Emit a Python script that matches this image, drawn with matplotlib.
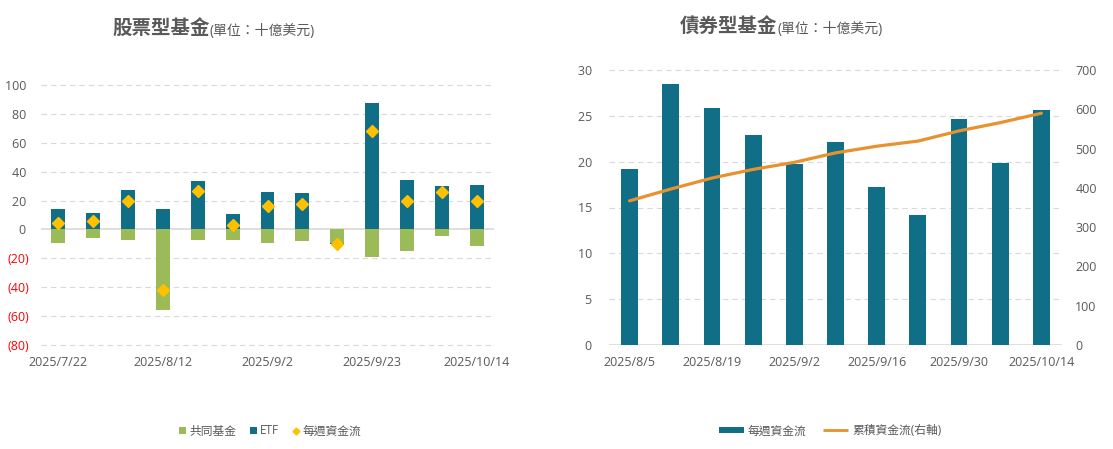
import matplotlib
matplotlib.use("Agg")
import matplotlib.pyplot as plt
from matplotlib.patches import Patch
from matplotlib.lines import Line2D
import numpy as np

plt.rcParams['font.family'] = ['Open Sans', 'Noto Sans CJK TC', 'DejaVu Sans']

# ---------------- data ----------------
eq_dates = ["2025/7/22", "2025/7/29", "2025/8/5", "2025/8/12", "2025/8/19", "2025/8/26",
            "2025/9/2", "2025/9/9", "2025/9/16", "2025/9/23", "2025/9/30", "2025/10/7",
            "2025/10/14"]
eq_mutual = [-9.2, -5.8, -7.4, -55.7, -7.4, -7.4, -9.2, -8.1, -9.2, -19.2, -15.0, -4.6, -11.3]
eq_etf = [14.1, 11.3, 27.3, 14.1, 33.5, 10.6, 25.9, 25.2, -0.6, 87.5, 34.2, 30.0, 30.7]
eq_weekly = [4.6, 6.0, 19.9, -42.0, 26.8, 3.2, 16.4, 17.8, -9.8, 68.1, 19.9, 25.9, 19.9]
eq_yticks = [100, 80, 60, 40, 20, 0, -20, -40, -60, -80]

bd_dates = ["2025/8/5", "2025/8/12", "2025/8/19", "2025/8/26", "2025/9/2", "2025/9/9",
            "2025/9/16", "2025/9/23", "2025/9/30", "2025/10/7", "2025/10/14"]
bd_weekly = [19.2, 28.5, 25.9, 22.9, 19.7, 22.2, 17.2, 14.2, 24.7, 19.9, 25.6]
bd_cum = [367, 397, 425, 447, 465, 489, 506, 519, 545, 566, 590]
bd_yticks = [0, 5, 10, 15, 20, 25, 30]
bd_y2ticks = [0, 100, 200, 300, 400, 500, 600, 700]

# ---------------- style ----------------
TEAL = "#106E87"
GREEN = "#9BBB59"
GOLD = "#FFC000"
ORANGE = "#E8912F"
GRAY = "#595959"
GRID = "#D9D9D9"
W, H = 1113, 449

fig = plt.figure(figsize=(W / 100, H / 100), dpi=100)

def fx(px):
    return px / W

def fy(py):
    return 1 - py / H

def style_axes(ax):
    for s in ax.spines.values():
        s.set_visible(False)
    ax.tick_params(axis='both', length=0, colors=GRAY, labelsize=9)

def fmt_num(v):
    if v < 0:
        return "({:,.0f})".format(-v)
    return "{:,.0f} ".format(v)

# ---------------- equity chart ----------------
ax1 = fig.add_axes([fx(41), fy(345), fx(453), (345 - 85) / H])
style_axes(ax1)
x1 = np.arange(len(eq_dates))
bw = 0.40
pos_bottom = np.zeros(len(x1))
neg_bottom = np.zeros(len(x1))
for vals, col in ((eq_mutual, GREEN), (eq_etf, TEAL)):
    vals = np.array(vals)
    bottoms = np.where(vals >= 0, pos_bottom, neg_bottom)
    ax1.bar(x1, vals, bw, bottom=bottoms, color=col, zorder=2)
    pos_bottom = pos_bottom + np.where(vals >= 0, vals, 0)
    neg_bottom = neg_bottom + np.where(vals < 0, vals, 0)
ax1.plot(x1, eq_weekly, ls='', marker='D', color=GOLD, markersize=6.2, zorder=3)
ax1.set_xlim(-0.5, len(x1) - 0.5)
ax1.set_ylim(-80, 100)
ax1.set_yticks(eq_yticks)
ax1.set_yticklabels([fmt_num(v) for v in eq_yticks])
for lab, v in zip(ax1.get_yticklabels(), eq_yticks):
    if v < 0:
        lab.set_color("#FF0000")
ax1.tick_params(axis='y', pad=8.5)
ax1.set_xticks(x1[::3])
ax1.set_xticklabels(eq_dates[::3])
ax1.tick_params(axis='x', pad=8)
for v in eq_yticks:
    if v == 0:
        ax1.axhline(v, color=GRID, lw=1.2, zorder=1)
    else:
        ax1.axhline(v, color=GRID, lw=0.8, ls=(0, (5, 3.5)), zorder=1, clip_on=False)

# ---------------- bond chart ----------------
ax2 = fig.add_axes([fx(609), fy(345), fx(453), (345 - 70) / H])
style_axes(ax2)
x2 = np.arange(len(bd_dates))
ax2.bar(x2, bd_weekly, 0.41, color=TEAL, zorder=2)
ax2.set_xlim(-0.5, len(x2) - 0.5)
ax2.set_ylim(0, 30)
ax2.set_yticks(bd_yticks)
ax2.set_yticklabels([fmt_num(v) for v in bd_yticks])
ax2.tick_params(axis='y', pad=10)
ax2.set_xticks(x2[::2])
ax2.set_xticklabels(bd_dates[::2])
ax2.tick_params(axis='x', pad=8)
for v in bd_yticks:
    if v == 0:
        ax2.axhline(v, color=GRID, lw=1.2, zorder=1)
    else:
        ax2.axhline(v, color=GRID, lw=0.8, ls=(0, (5, 3.5)), zorder=1, clip_on=False)

ax2r = ax2.twinx()
style_axes(ax2r)
ax2r.plot(x2, bd_cum, color=ORANGE, lw=2.3, solid_capstyle='round', zorder=3)
ax2r.set_ylim(0, 700)
ax2r.set_yticks(bd_y2ticks)
ax2r.set_yticklabels([str(v) for v in bd_y2ticks])
ax2r.tick_params(axis='y', pad=9.5)

# ---------------- titles ----------------
fig.canvas.draw()
renderer = fig.canvas.get_renderer()

def title(xpx, basepx, big, small):
    t = fig.text(fx(xpx), fy(basepx), big, fontsize=14, fontweight='bold',
                 color=GRAY, ha='left', va='baseline')
    bb = t.get_window_extent(renderer)
    fig.text(bb.x1 / W, fy(basepx), small, fontsize=10, color=GRAY,
             ha='left', va='baseline')

title(112, 35, "股票型基金", "(單位：十億美元)")
title(680, 33, "債券型基金", "(單位：十億美元)")

# ---------------- legends ----------------
h1 = [Patch(facecolor=GREEN, edgecolor='none', label="共同基金"),
      Patch(facecolor=TEAL, edgecolor='none', label="ETF"),
      Line2D([], [], ls='', marker='D', color=GOLD, markersize=3.5, label="每週資金流")]
fig.legend(handles=h1, loc='center', bbox_to_anchor=(fx(270.5), fy(431)), ncol=3,
           frameon=False, fontsize=8.5, handlelength=0.55, handleheight=0.55,
           handletextpad=0.3, columnspacing=1.15, labelcolor=GRAY, borderpad=0)

h2 = [Line2D([], [], color=TEAL, lw=4.3, solid_capstyle='butt', label="每週資金流"),
      Line2D([], [], color=ORANGE, lw=2.0, solid_capstyle='butt', label="累積資金流(右軸)")]
fig.legend(handles=h2, loc='center', bbox_to_anchor=(fx(830), fy(431)), ncol=2,
           frameon=False, fontsize=8.5, handlelength=2.15,
           handletextpad=0.3, columnspacing=1.4, labelcolor=GRAY, borderpad=0)

fig.savefig("out.png", dpi=100)
